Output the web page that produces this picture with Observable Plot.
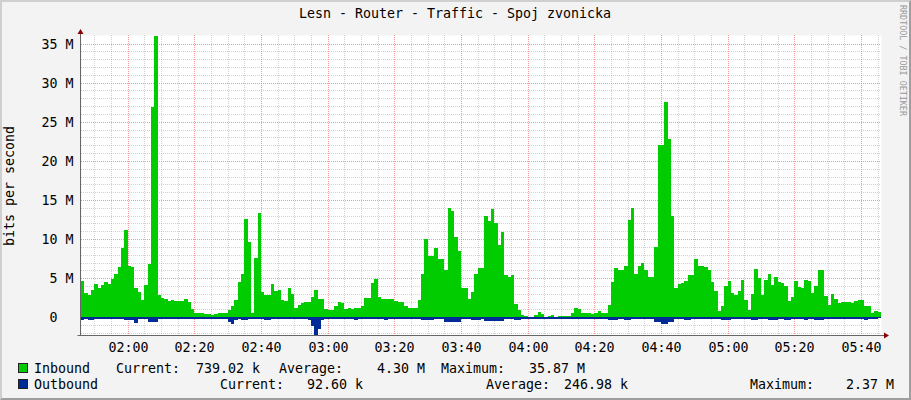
<!DOCTYPE html>
<html><head><meta charset="utf-8">
<script src="https://cdn.jsdelivr.net/npm/d3@7"></script>
<script src="https://cdn.jsdelivr.net/npm/@observablehq/plot@0.6"></script>
<style>
html,body{margin:0;padding:0;background:#fff;}
#wrap{position:relative;width:911px;height:400px;background:#F3F3F3;overflow:hidden;}
#wrap svg{position:absolute;left:0;top:0;}
#frame{position:absolute;left:0;top:0;width:911px;height:400px;box-sizing:border-box;border-top:2px solid #CFCFCF;border-left:2px solid #CFCFCF;border-right:2px solid #9E9E9E;border-bottom:2px solid #9E9E9E;pointer-events:none;}
</style></head>
<body><div id="wrap"><div id="frame"></div></div>
<script>
// ---- data (values in M bits/s, one per minute from 01:46) ----
const startLabel = "01:46";
const inbound = [
4.7,3.1,2.8,3.5,4.2,3.8,4.1,4.5,4.3,4.9, 5.5,6.4,8.8,11.1,6.6,6.4,3.7,3.3,2.2,4.1,
6.8,26.9,35.9,2.9,2.5,2.3,2.1,2.2,2.1,2.1, 2.1,2.3,2.0,1.0,0.5,0.5,0.5,0.45,0.4,0.3,
0.45,0.6,0.5,0.6,0.9,1.4,2.2,4.5,5.5,12.6, 9.6,0.5,7.6,13.3,3.3,2.9,2.9,4.2,3.4,3.5,
2.2,2.1,3.8,3.0,1.2,1.6,1.8,1.9,2.0,2.6, 3.5,2.3,2.3,1.0,0.9,0.9,1.5,2.0,1.8,1.1,
1.2,1.1,1.2,1.2,1.4,2.5,2.5,4.4,4.9,2.6, 2.3,2.3,2.4,2.4,2.1,1.9,2.0,1.5,1.15,1.15,
1.2,2.2,5.5,10.0,7.8,7.8,8.9,7.5,7.5,6.1, 14.0,13.6,10.3,8.5,3.8,3.8,2.4,3.2,5.5,6.3,
6.3,13.0,12.3,13.8,12.1,9.3,10.9,5.4,5.1,5.4, 1.7,0.9,0.3,0.15,0.1,0.1,0.3,0.65,0.4,0.1,
0.2,0.3,0.1,0.2,0.17,0.17,0.2,0.6,1.15,1.0, 0.5,0.6,0.5,0.4,0.6,0.8,0.6,0.5,1.6,4.5,
6.3,6.0,6.0,6.55,12.4,14.0,5.6,6.55,7.0,6.0, 5.1,5.1,9.0,22.0,22.0,27.5,22.8,12.9,3.7,4.3,
4.4,4.6,5.4,5.4,7.4,6.5,6.5,6.4,6.0,4.55, 3.4,0.8,1.45,4.0,4.7,3.1,2.85,3.4,4.75,2.2,
0.95,3.0,6.2,5.0,2.85,4.75,5.5,4.1,5.2,4.55, 4.4,4.0,2.1,2.6,4.7,3.9,3.8,4.75,4.7,3.1,
4.0,6.0,6.0,2.75,1.6,3.0,2.3,1.8,1.9,2.0, 2.0,1.8,2.1,2.2,2.2,1.45,1.45,0.5,0.8,0.74
];
const outbound = [
0.35,0.22,0.35,0.35,0.22,0.22,0.22,0.22,0.22,0.22, 0.22,0.22,0.22,0.3,0.3,0.3,0.7,0.22,0.22,0.22,
0.6,0.6,0.6,0.22,0.22,0.22,0.22,0.22,0.22,0.22, 0.22,0.22,0.22,0.22,0.22,0.22,0.22,0.22,0.22,0.22,
0.22,0.22,0.22,0.22,0.6,0.8,0.4,0.22,0.35,0.3, 0.22,0.22,0.22,0.22,0.22,0.4,0.4,0.22,0.22,0.22,
0.22,0.22,0.22,0.22,0.22,0.22,0.22,0.22,0.3,1.1, 2.37,1.5,0.3,0.22,0.22,0.22,0.22,0.22,0.22,0.22,
0.22,0.22,0.4,0.22,0.22,0.22,0.22,0.22,0.22,0.22, 0.22,0.4,0.22,0.22,0.22,0.22,0.22,0.22,0.22,0.22,
0.22,0.22,0.4,0.4,0.4,0.4,0.22,0.22,0.22,0.55, 0.55,0.55,0.55,0.55,0.22,0.22,0.22,0.4,0.4,0.4,
0.22,0.45,0.45,0.45,0.45,0.45,0.45,0.22,0.22,0.22, 0.35,0.35,0.22,0.22,0.22,0.22,0.22,0.22,0.22,0.22,
0.22,0.22,0.22,0.22,0.22,0.22,0.22,0.22,0.22,0.22, 0.22,0.22,0.22,0.22,0.22,0.22,0.22,0.22,0.4,0.4,
0.4,0.22,0.22,0.4,0.4,0.22,0.22,0.22,0.22,0.22, 0.22,0.22,0.6,0.6,0.8,0.8,0.6,0.6,0.22,0.22,
0.22,0.4,0.4,0.22,0.22,0.22,0.22,0.22,0.22,0.22, 0.22,0.22,0.3,0.3,0.3,0.22,0.22,0.22,0.22,0.22,
0.22,0.4,0.4,0.22,0.22,0.22,0.3,0.3,0.3,0.22, 0.22,0.3,0.3,0.22,0.22,0.22,0.22,0.3,0.22,0.22,
0.3,0.3,0.3,0.22,0.22,0.22,0.22,0.22,0.22,0.22, 0.22,0.22,0.22,0.22,0.22,0.3,0.22,0.22,0.22,0.09
];
const xTickLabels = ["02:00","02:20","02:40","03:00","03:20","03:40","04:00","04:20","04:40","05:00","05:20","05:40"];
const yTickValues = [0,5,10,15,20,25,30,35];
const titleText = "Lesn - Router - Traffic - Spoj zvonicka";
const yLabelText = "bits per second";
const watermark = "RRDTOOL / TOBI OETIKER";
const legendRows = [
  {name: "Inbound", color: "#00CC00", parts: [["Current:", 116], ["739.02 k", 196], ["Average:", 279], ["4.30 M", 377], ["Maximum:", 441], ["35.87 M", 529]]},
  {name: "Outbound", color: "#002A97", parts: [["Current:", 220], ["92.60 k", 307], ["Average:", 486], ["246.98 k", 564], ["Maximum:", 750], ["2.37 M", 846]]}
];

(function draw() {
  const toDate = s => { const [h, m] = s.split(":").map(Number); return new Date(Date.UTC(2024, 0, 1, h, m)); };
  const t0 = toDate(startLabel).getTime();
  const MIN = 60000;
  const rows = inbound.map((v, i) => ({t: new Date(t0 + i * MIN), inb: v, out: -outbound[i]}));
  rows.push({t: new Date(t0 + inbound.length * MIN), inb: inbound[inbound.length - 1], out: -outbound[outbound.length - 1]});
  const xDomain = [new Date(t0), new Date(t0 + inbound.length * MIN)];
  const yDomain = [-2.26, 36.09];
  const majorX = xTickLabels.map(toDate);
  const minorX = d3.utcMinute.every(5).range(xDomain[0], xDomain[1]).filter(d => d.getUTCMinutes() % 20 !== 0);
  const minorY = d3.range(-2, 36).filter(v => v % 5 !== 0);

  const FONT = "'DejaVu Sans Mono', monospace";
  const grid = {stroke: "#8C8C8C", strokeOpacity: 0.4, strokeDasharray: "1,1"};
  const mgrid = {stroke: "#F08080", strokeOpacity: 0.8, strokeDasharray: "1,1"};

  const plot = Plot.plot({
    width: 911, height: 400,
    marginLeft: 81, marginRight: 30, marginTop: 35, marginBottom: 65,
    x: {type: "utc", domain: xDomain, round: true},
    y: {domain: yDomain, round: true},
    style: {background: "transparent", fontFamily: FONT, fontSize: "13.3px", color: "#000", overflow: "visible"},
    marks: [
      Plot.frame({fill: "#FFFFFF", stroke: null}),
      Plot.ruleY(minorY, grid),
      Plot.ruleX(minorX, grid),
      Plot.ruleY(yTickValues, mgrid),
      Plot.ruleX(majorX, mgrid),
      Plot.areaY(rows, {x: "t", y: "inb", fill: "#00CC00", curve: "step-after"}),
      Plot.areaY(rows, {x: "t", y: "out", fill: "#002A97", curve: "step-after"}),
      Plot.axisX({ticks: majorX, tickFormat: d3.utcFormat("%H:%M"), tickSize: 0, tickPadding: 7, label: null, fill: "#000"}),
      Plot.axisY({ticks: yTickValues, tickFormat: d => d === 0 ? "0\u00A0\u00A0" : d + " M", tickSize: 0, tickPadding: 8, label: null, fill: "#000"})
    ]
  });
  document.getElementById("wrap").insertBefore(plot, document.getElementById("frame"));

  const svg = d3.select(plot);
  const xs = plot.scale("x"), ys = plot.scale("y");
  const xL = xs.apply(xDomain[0]) - 0.5;
  const xR = xs.apply(xDomain[1]);
  const yB = ys.apply(yDomain[0]) + 0.5;
  const yT = ys.apply(yDomain[1]);
  const axisColor = "#666";
  svg.append("line").attr("x1", xL).attr("x2", xL).attr("y1", yT - 4).attr("y2", yB).attr("stroke", axisColor);
  svg.append("line").attr("x1", xL - 3).attr("x2", xR + 4).attr("y1", yB).attr("y2", yB).attr("stroke", axisColor);
  svg.append("path").attr("d", `M${xL - 3},${yT - 1}L${xL},${yT - 6}L${xL + 3},${yT - 1}Z`).attr("fill", "#8B0000");
  svg.append("path").attr("d", `M${xR + 3},${yB - 3}L${xR + 8},${yB}L${xR + 3},${yB + 3}Z`).attr("fill", "#8B0000");

  const txt = (x, y, s, opts = {}) => svg.append("text").attr("x", x).attr("y", y)
    .attr("font-family", FONT).attr("font-size", opts.size || "13.3px").attr("fill", opts.fill || "#000")
    .attr("text-anchor", opts.anchor || "start").text(s);

  txt(455, 18, titleText, {anchor: "middle"});
  svg.append("text").attr("transform", "translate(14,186) rotate(-90)").attr("text-anchor", "middle")
    .attr("font-family", FONT).attr("font-size", "13.3px").attr("fill", "#000").text(yLabelText);
  svg.append("text").attr("transform", "translate(900,5) rotate(90)").attr("text-anchor", "start")
    .attr("font-family", FONT).attr("font-size", "8.4px").attr("fill", "#9A9A9A").text(watermark);

  legendRows.forEach((r, k) => {
    const base = 373 + k * 16;
    svg.append("rect").attr("x", 18.5).attr("y", base - 9.5).attr("width", 9).attr("height", 9)
      .attr("fill", r.color).attr("stroke", "#222");
    txt(34, base, r.name);
    r.parts.forEach(([s, x]) => txt(x, base, s));
  });
})();
</script>
</body></html>
